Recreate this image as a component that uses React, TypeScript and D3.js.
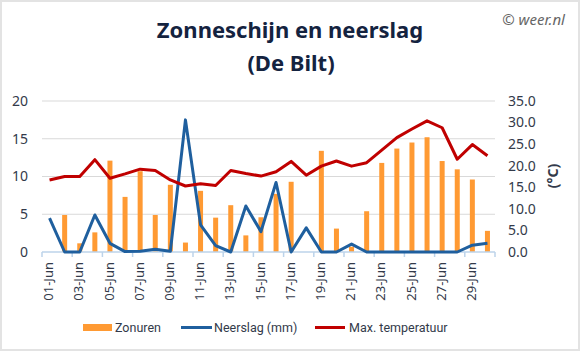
import { useEffect, useRef } from "react";
import * as d3 from "d3";

// daily values, De Bilt, June
const days = d3.range(1, 31).map(d => (d < 10 ? "0" + d : "" + d) + "-Jun");
const zonuren = [0, 4.9, 1.15, 2.6, 12.1, 7.3, 10.7, 4.9, 8.9, 1.25, 8.1, 4.55, 6.2, 2.2, 4.6, 7.7, 9.3, 0, 13.4, 3.1, 0.7, 5.4, 11.8, 13.7, 14.5, 15.2, 12.05, 10.95, 9.6, 2.8];
const neerslag = [4.5, 0, 0, 4.9, 1.15, 0.05, 0.1, 0.35, 0.1, 17.5, 3.6, 0.85, 0, 6.1, 2.7, 9.2, 0, 3.2, 0, 0, 1.05, 0, 0, 0, 0, 0, 0, 0, 0.9, 1.15];
const maxTemp = [16.7, 17.5, 17.5, 21.4, 17.1, 18.1, 19.2, 18.9, 16.7, 15.3, 15.8, 15.4, 18.9, 18.2, 17.6, 18.6, 21.0, 17.8, 19.9, 21.1, 19.9, 20.7, 23.6, 26.5, 28.5, 30.4, 28.8, 21.5, 24.9, 22.3];
const leftTicks = [0, 5, 10, 15, 20];
const rightTicks = [0, 5, 10, 15, 20, 25, 30, 35];
const legendItems = ["Zonuren", "Neerslag (mm)", "Max. temperatuur"];

const W = 582, H = 353;
const font = "'Noto Sans', sans-serif";
const txt = "#333a4a";

export default function App() {
  const ref = useRef<SVGSVGElement | null>(null);

  useEffect(() => {
    const svg = d3.select(ref.current);
    svg.selectAll("*").remove();

    const left = 42, right = 495, top = 101, bottom = 252;
    const x = d3.scaleBand().domain(days).range([left, right]).padding(0);
    const y = d3.scaleLinear().domain([0, 20]).range([bottom, top]);
    const y2 = d3.scaleLinear().domain([0, 35]).range([bottom, top]);
    const cx = (d: string) => x(d)! + x.bandwidth() / 2;

    svg.append("rect").attr("x", 1).attr("y", 1).attr("width", W - 4).attr("height", H - 4)
      .attr("fill", "#fff").attr("stroke", "#e3e3e3").attr("stroke-width", 2);

    // titles
    svg.append("text").attr("x", 290).attr("y", 38).attr("text-anchor", "middle")
      .attr("font-family", font).attr("font-weight", "bold").attr("font-size", 22)
      .attr("fill", "#14233f").text("Zonneschijn en neerslag");
    svg.append("text").attr("x", 291).attr("y", 71).attr("text-anchor", "middle")
      .attr("font-family", font).attr("font-weight", "bold").attr("font-size", 22)
      .attr("fill", "#14233f").text("(De Bilt)");
    svg.append("text").attr("x", 565).attr("y", 25).attr("text-anchor", "end")
      .attr("font-family", font).attr("font-style", "italic").attr("font-size", 15)
      .attr("fill", "#666").text("© weer.nl");

    // grid
    svg.append("g").selectAll("line").data(leftTicks.slice(1)).join("line")
      .attr("x1", left).attr("x2", right).attr("y1", d => y(d)).attr("y2", d => y(d))
      .attr("stroke", "#d9d9d9").attr("stroke-width", 1);

    // left axis labels
    svg.append("g").selectAll("text").data(leftTicks).join("text")
      .attr("x", 28).attr("y", d => y(d)).attr("dy", "0.35em").attr("text-anchor", "end")
      .attr("font-family", font).attr("font-size", 14).attr("fill", txt).text(d => d);

    // right axis labels
    svg.append("g").selectAll("text").data(rightTicks).join("text")
      .attr("x", 508).attr("y", d => y2(d)).attr("dy", "0.35em")
      .attr("font-family", font).attr("font-size", 14).attr("fill", txt).text(d => d.toFixed(1));
    svg.append("text").attr("transform", `translate(558,176) rotate(-90)`).attr("text-anchor", "middle")
      .attr("font-family", font).attr("font-weight", "bold").attr("font-size", 14)
      .attr("fill", txt).text("(°C)");

    // bars
    svg.append("g").selectAll("rect").data(zonuren).join("rect")
      .attr("x", (d, i) => cx(days[i]) - 2.5).attr("width", 5)
      .attr("y", d => y(d)).attr("height", d => bottom - y(d))
      .attr("fill", "#ff9a33");

    // x axis
    const ax = svg.append("g");
    ax.append("line").attr("x1", left).attr("x2", right).attr("y1", bottom).attr("y2", bottom)
      .attr("stroke", "#bcd3ea").attr("stroke-width", 1.5);
    const tickPos = d3.range(0, 31, 2).map(i => left + i * x.bandwidth());
    ax.selectAll("line.t").data(tickPos).join("line").attr("class", "t")
      .attr("x1", d => d).attr("x2", d => d).attr("y1", bottom).attr("y2", bottom + 5)
      .attr("stroke", "#bcd3ea").attr("stroke-width", 1.5);
    ax.selectAll("text").data(days.filter((d, i) => i % 2 === 0)).join("text")
      .attr("transform", d => `translate(${cx(d) - 1},262) rotate(-90)`)
      .attr("text-anchor", "end").attr("dy", "0.35em")
      .attr("font-family", font).attr("font-size", 13).attr("fill", txt).text(d => d);

    // lines
    const rainLine = d3.line<number>().x((d, i) => cx(days[i])).y(d => y(d));
    svg.append("path").datum(neerslag).attr("d", rainLine).attr("fill", "none")
      .attr("stroke", "#1f5f9e").attr("stroke-width", 3).attr("stroke-linejoin", "round");
    const tempLine = d3.line<number>().x((d, i) => cx(days[i])).y(d => y2(d));
    svg.append("path").datum(maxTemp).attr("d", tempLine).attr("fill", "none")
      .attr("stroke", "#c00000").attr("stroke-width", 3).attr("stroke-linejoin", "round");

    // legend
    const lg = svg.append("g").attr("font-family", "Roboto, sans-serif").attr("font-size", 12.5).attr("fill", txt);
    lg.append("rect").attr("x", 83).attr("y", 324).attr("width", 29).attr("height", 7).attr("fill", "#ff9a33");
    lg.append("text").attr("x", 115).attr("y", 328).attr("dy", "0.35em").text(legendItems[0]);
    lg.append("line").attr("x1", 181).attr("x2", 212).attr("y1", 327.5).attr("y2", 327.5)
      .attr("stroke", "#1f5f9e").attr("stroke-width", 3);
    lg.append("text").attr("x", 214).attr("y", 328).attr("dy", "0.35em").text(legendItems[1]);
    lg.append("line").attr("x1", 315).attr("x2", 345).attr("y1", 327.5).attr("y2", 327.5)
      .attr("stroke", "#c00000").attr("stroke-width", 3);
    lg.append("text").attr("x", 349).attr("y", 328).attr("dy", "0.35em").text(legendItems[2]);
  }, []);

  return (
    <svg ref={ref} width={W} height={H} style={{ position: "absolute", left: 0, top: 0 }} />
  );
}
